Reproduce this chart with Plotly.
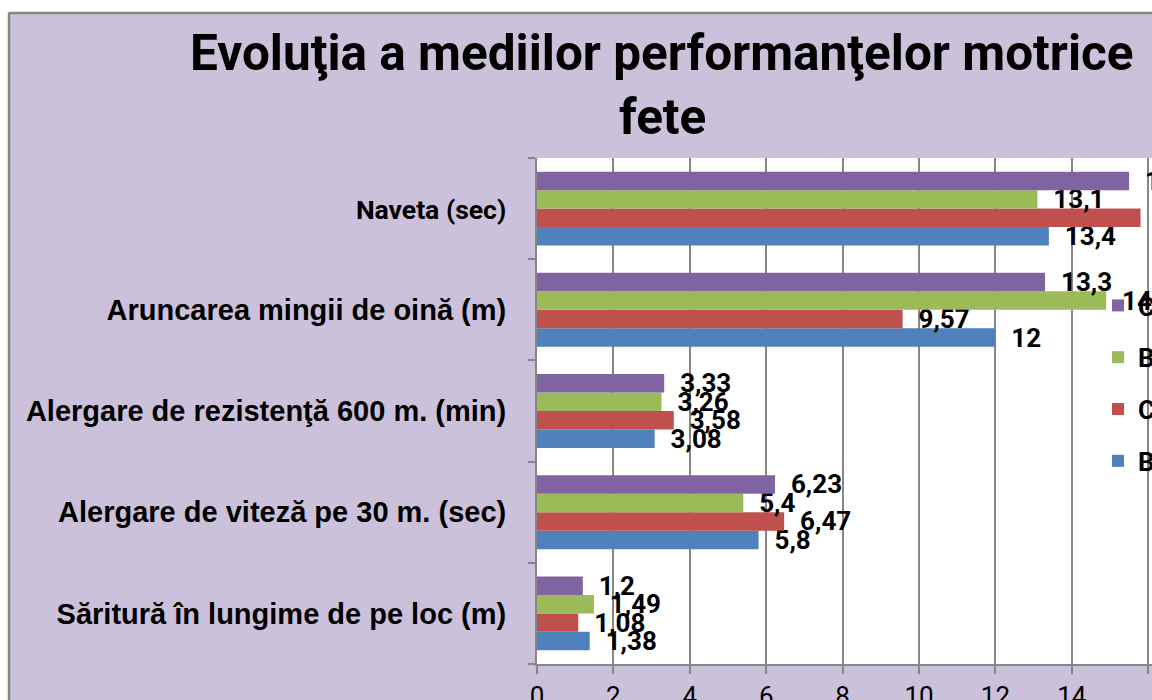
import plotly.graph_objects as go

categories = [
    "Săritură în lungime de pe loc (m)",
    "Alergare de viteză pe 30 m. (sec)",
    "Alergare de rezistenţă 600 m. (min)",
    "Aruncarea mingii de oină (m)",
    "Naveta (sec)",
]
series_names = ["Barem clasa a V-a", "Clasa a V-a", "Barem clasa a VI-a", "Clasa a VI-a"]
blue_vals = [1.38, 5.8, 3.08, 12, 13.4]
red_vals = [1.08, 6.47, 3.58, 9.57, 15.8]
green_vals = [1.49, 5.4, 3.26, 14.9, 13.1]
purple_vals = [1.2, 6.23, 3.33, 13.3, 15.5]
colors = ["#4F81BD", "#C0504D", "#9BBB59", "#8064A2"]
x_ticks = [0, 2, 4, 6, 8, 10, 12, 14, 16]

W, H = 1152, 700
ML, MR, MT, MB = 537, 0, 158, 36
PW = W - ML - MR
PH = H - MT - MB
CAL = "Roboto, Open Sans, Liberation Sans"


def px(x):
    return (x - ML) / PW


def py(y):
    return (H - MB - y) / PH


def fmt(v):
    return "\u00a0\u00a0" + f"{v:g}".replace(".", ",")


def cat_label(c):
    if c.startswith("Naveta"):
        return f'<span style="font-family:Roboto;font-size:26.5px">{c}</span>'
    return c


fig = go.Figure()
all_vals = [blue_vals, red_vals, green_vals, purple_vals]
for i, (name, vals, col) in enumerate(zip(series_names, all_vals, colors)):
    fig.add_trace(go.Bar(
        y=categories, x=vals, orientation="h", name=name,
        marker=dict(color=col, line=dict(width=0)),
        text=[fmt(v) for v in vals], textposition="outside",
        constraintext="none", cliponaxis=False,
        textfont=dict(family=CAL, size=26, color="black", weight="bold"),
        legendgroup=name, legendrank=len(series_names) - i,
    ))

LAV = "#CCC1DA"
GREY = "#868686"
fig.update_layout(
    width=W, height=H,
    margin=dict(l=ML, r=MR, t=MT, b=MB, autoexpand=False),
    paper_bgcolor=LAV, plot_bgcolor="white",
    barmode="group", bargap=0.27, bargroupgap=0,
    showlegend=True,
    legend=dict(
        x=px(1098), y=py(282), xanchor="left", yanchor="top",
        traceorder="grouped", tracegroupgap=15,
        bgcolor="rgba(0,0,0,0)",
        font=dict(family=CAL, size=26, color="black", weight="bold"),
    ),
    xaxis=dict(
        range=[0, PW / 38.2], tickvals=x_ticks, ticktext=[str(t) for t in x_ticks],
        showgrid=True, gridcolor=GREY, gridwidth=1.5,
        showline=True, linecolor=GREY, linewidth=2,
        ticks="outside", ticklen=8, tickcolor=GREY, tickwidth=2,
        tickfont=dict(family=CAL, size=26, color="black"),
        zeroline=False, fixedrange=True,
    ),
    yaxis=dict(
        showline=True, linecolor=GREY, linewidth=2,
        ticks="outside", ticklen=7, tickcolor=GREY, tickwidth=2,
        tickson="boundaries", showgrid=False,
        tickvals=categories, ticktext=[cat_label(c) for c in categories],
        ticklabelstandoff=23,
        tickfont=dict(family="Liberation Sans, Arial", size=29, color="black", weight="bold"),
    ),
    annotations=[
        dict(text="Evoluţia a mediilor performanţelor motrice", x=px(662), y=py(53),
             xref="paper", yref="paper", showarrow=False, xanchor="center", yanchor="middle",
             font=dict(family=CAL, size=49.5, color="black", weight="bold")),
        dict(text="fete", x=px(662), y=py(117),
             xref="paper", yref="paper", showarrow=False, xanchor="center", yanchor="middle",
             font=dict(family=CAL, size=49.5, color="black", weight="bold")),
    ],
    shapes=[
        dict(type="rect", xref="paper", yref="paper", x0=px(0), x1=px(W), y0=py(0), y1=py(12),
             fillcolor="white", line=dict(width=0), layer="above"),
        dict(type="rect", xref="paper", yref="paper", x0=px(0), x1=px(8), y0=py(0), y1=py(H),
             fillcolor="white", line=dict(width=0), layer="above"),
        dict(type="line", xref="paper", yref="paper", x0=px(9), x1=px(W), y0=py(13), y1=py(13),
             line=dict(color=GREY, width=2.5), layer="above"),
        dict(type="line", xref="paper", yref="paper", x0=px(9), x1=px(9), y0=py(13), y1=py(H),
             line=dict(color=GREY, width=2.5), layer="above"),
    ],
)

fig.write_html(
    "out.html",
    config={"displayModeBar": False},
    post_script="document.body.style.margin='0';document.body.style.overflow='hidden';",
)
